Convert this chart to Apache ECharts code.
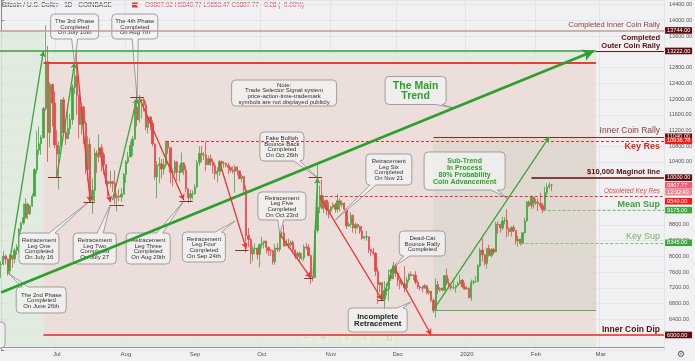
<!DOCTYPE html>
<html><head><meta charset="utf-8">
<script src="https://cdn.jsdelivr.net/npm/echarts@6/dist/echarts.min.js"></script>
<style>html,body{margin:0;padding:0;background:#f1f1f3;}#c{width:695px;height:361px;}</style>
</head><body><div id="c"></div>
<script>
// ---------- DATA ----------
const firstDay = '2019-06-06', lastDay = '2020-03-29';
// daily candles [open, close, low, high]
const jun19 = [[7790,7800,7450,7870],[7800,8000,7770,8130],[8000,7930,7790,8050],[7930,7630,7510,7950],[7630,8020,7530,8050],[8020,7930,7710,8030],[7930,8150,7820,8220],[8150,8240,8040,8310],[8240,8690,8080,8720],[8690,8850,8600,8880],[8850,8980,8800,9340],[8980,9330,8970,9480],[9330,9080,8940,9360],[9080,9280,9050,9310],[9280,9530,9260,9600],[9530,10200,9530,10250],[10200,10700,10100,11180],[10700,10860,10580,11300],[10860,11020,10580,11080],[11020,11760,11000,11800],[11760,12950,11700,13880],[12950,11150,10400,13350],[11150,12370,10770,12430],[12370,11900,11300,12390],[11900,10830,10750,12190]];
const jul19 = [[10830,10600,10000,11210],[10600,10800,9700,10920],[10800,11980,10800,11990],[11980,11150,11080,12050],[11150,10990,10830,11440],[10990,11250,10990,11700],[11250,11480,11100,11620],[11480,12300,11350,12380],[12300,12580,12130,12800],[12580,12100,11600,13200],[12100,11350,11000,12100],[11350,11800,11100,11900],[11800,11380,10850,11830],[11380,10200,10100,11450],[10200,10850,9900,11050],[10850,9430,9380,11000],[9430,9680,9080,9980],[9680,10630,9380,10750],[10630,10530,10120,10700],[10530,10760,10400,11100],[10760,10590,10160,10850],[10590,10330,10080,10650],[10330,9900,9830,10330],[9900,9850,9530,9930],[9850,9900,9750,10180],[9900,9850,9640,9900],[9850,9490,9330,10190],[9490,9530,9140,9600],[9530,9510,9400,9700],[9510,9580,9390,9740],[9580,10080,9570,10120]];
const aug19 = [[10080,10400,9870,10450],[10400,10530,10350,10660],[10530,10820,10520,10920],[10820,10980,10560,11060],[10980,11800,10970,11900],[11800,11470,11300,12300],[11470,11970,11400,12100],[11970,11980,11500,12000],[11980,11850,11680,12040],[11850,11280,11200,11950],[11280,11540,11130,11560],[11540,11390,11210,11560],[11390,10860,10800,11460],[10860,10020,9950,10860],[10020,10310,9480,10420],[10310,10350,9860,10520],[10350,10220,9980,10470],[10220,10320,10080,10480],[10320,10920,10260,10940],[10920,10760,10600,10940],[10760,10140,9860,10770],[10140,10130,9780,10240],[10130,10400,10060,10450],[10400,10140,9920,10420],[10140,10140,9900,10330],[10140,10370,10140,10640],[10370,10190,10070,10400],[10190,9720,9640,10310],[9720,9490,9350,9720],[9490,9590,9400,9700],[9590,9600,9450,9680]];
const sep19 = [[9600,9760,9560,9830],[9760,10380,9750,10450],[10380,10620,10300,10800],[10620,10580,10400,10800],[10580,10580,10450,10650],[10580,10330,10160,10920],[10330,10480,10330,10560],[10480,10400,10300,10590],[10400,10310,10100,10480],[10310,10100,9950,10380],[10100,10160,9880,10270],[10160,10410,10050,10450],[10410,10360,10160,10440],[10360,10360,10250,10420],[10360,10310,10270,10390],[10310,10260,10080,10380],[10260,10190,10130,10270],[10190,10160,10100,10290],[10160,10270,9620,10330],[10270,10170,10060,10290],[10170,9980,9960,10180],[9980,10030,9880,10100],[10030,9690,9620,10050],[9690,8530,8100,9800],[8530,8430,8230,8720],[8430,8060,7800,8460],[8060,8190,7870,8270],[8190,8210,8050,8330],[8210,8050,7920,8220],[8050,8300,7720,8330]];
const oct19 = [[8300,8340,8200,8500],[8340,8390,8200,8390],[8390,8230,8070,8390],[8230,8150,8010,8240],[8150,8140,8010,8180],[8140,7860,7790,8170],[7860,8210,7780,8320],[8210,8180,8110,8340],[8180,8590,8110,8670],[8590,8590,8470,8630],[8590,8260,8250,8800],[8260,8320,8260,8440],[8320,8290,8200,8450],[8290,8360,8230,8400],[8360,8160,8100,8400],[8160,8000,7930,8170],[8000,8080,7960,8120],[8080,7960,7870,8110],[7960,7960,7900,8090],[7960,8240,7880,8300],[8240,8220,8170,8340],[8220,8020,8000,8310],[8020,7480,7300,8040],[7480,7460,7360,7500],[7460,8660,7450,8800],[8660,9250,8600,10350],[9250,9550,9100,9800],[9550,9220,9200,9950],[9220,9420,9100,9550],[9420,9180,9040,9440],[9180,9150,8960,9380]];
const nov19 = [[9150,9250,9060,9280],[9250,9310,9210,9370],[9310,9200,9110,9360],[9200,9410,9110,9580],[9410,9310,9150,9470],[9310,9350,9250,9420],[9350,9200,9120,9370],[9200,8770,8700,9230],[8770,8810,8760,8870],[8810,9040,8730,9120],[9040,8720,8600,9070],[8720,8810,8570,8860],[8810,8760,8700,8830],[8760,8640,8570,8780],[8640,8460,8420,8770],[8460,8490,8430,8530],[8490,8500,8400,8650],[8500,8170,8080,8500],[8170,8120,8000,8190],[8120,8080,8030,8220],[8080,7620,7500,8100],[7620,7280,6790,7720],[7280,7330,7080,7360],[7330,6910,6880,7340],[6910,7130,6520,7370],[7130,7170,7000,7320],[7170,7520,6870,7660],[7520,7430,7370,7640],[7430,7760,7420,7860],[7760,7570,7470,7820]];
const dec19 = [[7570,7400,7240,7580],[7400,7300,7160,7410],[7300,7300,7240,7410],[7300,7200,7080,7750],[7200,7400,7170,7480],[7400,7540,7340,7570],[7540,7510,7490,7620],[7510,7520,7400,7550],[7520,7340,7290,7620],[7340,7220,7170,7400],[7220,7200,7130,7260],[7200,7190,7080,7250],[7190,7250,7180,7300],[7250,7070,7030,7270],[7070,7110,7020,7180],[7110,6880,6830,7130],[6880,6620,6560,6930],[6620,7280,6430,7440],[7280,7150,7040,7370],[7150,7190,7100,7220],[7190,7140,7100,7190],[7140,7510,7130,7520],[7510,7320,7270,7690],[7320,7250,7170,7440],[7250,7200,7130,7270],[7200,7200,7160,7440],[7200,7250,7080,7270],[7250,7300,7250,7360],[7300,7390,7290,7520],[7390,7220,7210,7420],[7220,7170,7150,7330]];
const jan20 = [[7170,7180,7150,7250],[7180,6950,6930,7210],[6950,7340,6870,7410],[7340,7350,7280,7400],[7350,7360,7330,7500],[7360,7760,7350,7800],[7760,8160,7730,8220],[8160,8040,7870,8460],[8040,7820,7760,8050],[7820,8200,7680,8200],[8200,8020,7990,8290],[8020,8180,7970,8200],[8180,8110,8050,8200],[8110,8820,8110,8880],[8820,8810,8570,8890],[8810,8720,8600,8830],[8720,8900,8670,9000],[8900,8920,8810,9000],[8920,8700,8480,9190],[8700,8630,8520,8730],[8630,8730,8500,8760],[8730,8660,8620,8800],[8660,8390,8300,8660],[8390,8440,8240,8520],[8440,8330,8270,8440],[8330,8600,8300,8600],[8600,8900,8580,8980],[8900,9380,8880,9400],[9380,9290,9250,9420],[9290,9500,9200,9550],[9500,9350,9220,9520]];
const feb20 = [[9350,9380,9300,9470],[9380,9340,9150,9470],[9340,9290,9220,9620],[9290,9180,9100,9350],[9180,9620,9170,9770],[9620,9760,9550,9860],[9760,9808.05,9720,9880],[9807.92,9807.77,9653.47,9840.77]];

// x-axis tick labels
const xTicks = {'2019-07-01':'Jul','2019-08-01':'Aug','2019-09-01':'Sep','2019-10-01':'Oct','2019-11-01':'Nov','2019-12-01':'Dec','2020-01-01':'2020','2020-02-01':'Feb','2020-03-01':'Mar'};

// horizontal levels (price values)
const levelValues = {innerRally2:13744, outerRally:13222, phaseTop:12930, innerRally:11040, keyRes:10936.78, maginot:10000, obsRes:9540, meanSup:9175, keySup:8345, innerDip:6000, subBase:6640, last:9807.77};

// ---------- HELPERS ----------
const dates = [];
for (let t = Date.UTC(2019,5,6); t <= Date.UTC(2020,2,29); t += 86400000) dates.push(new Date(t).toISOString().slice(0,10));
const candles = [].concat(jun19, jul19, aug19, sep19, oct19, nov19, dec19, jan20, feb20);
const L = -0.5, R = dates.length - 0.5;
function X(d){ if (typeof d === 'number') return d; const [y,m,dd] = d.split('-').map(Number); return Math.round((Date.UTC(y,m-1,dd) - Date.UTC(2019,5,6))/86400000); }

const FONT = 'Liberation Sans';
const MAROON = '#5b0e0e';

// ---------- ANNOTATIONS ----------
const areas = [
  {a:[L, 13744], b:['2019-06-25', 5695], c:'rgba(222,234,218,0.85)'},
  {a:['2019-06-25', 13222], b:['2020-02-28', 12930], c:'rgba(222,234,218,0.85)'},
  {a:['2019-06-25', 6000], b:['2020-02-28', 5695], c:'rgba(222,234,218,0.85)'},
  {a:['2019-06-25', 12930], b:['2020-02-28', 6000], c:'rgba(235,218,212,0.8)'},
  {a:['2019-12-17', 11040], b:['2020-02-28', 6640], c:'rgba(219,215,206,0.75)'}
];

const levels = [
  {v:levelValues.innerRally2, from:L, to:R, color:'#c39a9a', w:1.6, text:'Completed Inner Coin Rally', tc:'#8e4040', fs:7.5},
  {v:levelValues.outerRally, from:'2020-02-28', to:R, color:'#6a1c1c', w:1.2, text:'Completed\nOuter Coin Rally', tc:MAROON, fs:7.5, fw:'bold', lh:7.5},
  {v:levelValues.outerRally, from:L, to:'2020-02-28', color:'#3c9c3c', w:1.5},
  {v:levelValues.phaseTop, from:'2019-06-25', to:'2020-02-28', color:'#f03a3a', w:2},
  {v:levelValues.innerRally, from:'2019-12-17', to:R, color:'#7a3030', w:1.2, text:'Inner Coin Rally', tc:'#8e4040', fs:8.5},
  {v:levelValues.keyRes, from:'2019-08-19', to:R, color:'#e83030', w:1, dash:[3,2], text:'Key Res', tc:'#e52222', fs:9, fw:'bold', pos:'insideEndBottom'},
  {v:levelValues.maginot, from:'2020-01-30', to:R, color:MAROON, w:1.5, text:'$10,000 Maginot line', tc:MAROON, fs:7.5, fw:'bold'},
  {v:levelValues.obsRes, from:'2019-10-27', to:R, color:'#e83030', w:1, dash:[3,2], text:'Obsoleted Key Res', tc:'#e84545', fs:6.5, fst:'italic'},
  {v:levelValues.meanSup, from:'2020-02-04', to:R, color:'#7cc46c', w:1, dash:[3,2], text:'Mean Sup', tc:'#3e9f3e', fs:9, fw:'bold'},
  {v:levelValues.keySup, from:'2020-01-25', to:R, color:'#7cc46c', w:1, dash:[3,2], text:'Key Sup', tc:'#6cb85c', fs:9},
  {v:levelValues.innerDip, from:'2019-06-25', to:R, color:'#ee2424', w:1.5, text:'Inner Coin Dip', tc:MAROON, fs:8.5, fw:'bold'},
  {v:levelValues.subBase, from:'2019-12-17', to:'2020-02-28', color:'#62aa5a', w:1}
];

const badges = [
  {v:levelValues.innerRally2, t:'13744.00', bg:MAROON},
  {v:levelValues.outerRally, t:'13222.00', bg:MAROON},
  {v:levelValues.innerRally, t:'11040.00', bg:MAROON},
  {v:levelValues.keyRes, t:'10936.78', bg:'#f21c1c'},
  {v:levelValues.maginot, t:'10000.00', bg:MAROON},
  {v:levelValues.last, t:'9807.77', bg:'#ef5d6c'},
  {v:levelValues.last, t:'12:32:43', bg:'#f28893', dy:7},
  {v:levelValues.obsRes, t:'9540.00', bg:'#f21c1c', dy:5.5},
  {v:levelValues.meanSup, t:'9175.00', bg:'#3da63d'},
  {v:levelValues.keySup, t:'8345.00', bg:'#3da63d'},
  {v:levelValues.innerDip, t:'6000.00', bg:MAROON}
];

// trend arrows [from, to]
const greenArrows = [
  [['2019-06-09', 7580], ['2019-06-25', 13222]],
  [['2019-07-01', 10020], ['2019-07-09', 12930]],
  [['2019-07-26', 9430], ['2019-08-06', 12030]],
  [['2019-10-24', 7450], ['2019-10-26', 10000]],
  [['2019-11-24', 6890], ['2019-11-29', 7730]],
  [['2019-12-17', 6640], ['2020-02-07', 11040]]
];
const redArrows = [
  [['2019-07-10', 12930], ['2019-07-16', 9380]],
  [['2019-07-20', 10760], ['2019-07-25', 9380]],
  [['2019-08-07', 12030], ['2019-08-27', 9430]],
  [['2019-09-12', 10400], ['2019-09-24', 8190]],
  [['2019-10-09', 8570], ['2019-10-23', 7450]],
  [['2019-10-27', 9510], ['2019-11-24', 6890]],
  [['2019-11-30', 7650], ['2019-12-16', 6000]]
];
const mainTrend = [['2019-06-06', 7080], ['2020-02-27', 13222]];
const pivotMarks = [
  ['2019-06-27','2019-07-03',10020],['2019-07-13','2019-07-18',9370],['2019-07-25','2019-07-31',9300],
  ['2019-08-03','2019-08-09',12040],['2019-08-25','2019-08-31',9410],['2019-09-19','2019-09-25',8160],
  ['2019-10-20','2019-10-24',7430],['2019-10-22','2019-10-28',10000],['2019-11-22','2019-11-25',6890]
];

const callouts = [
  {at:['2019-07-09', 13844], w:48, h:25, to:['2019-07-09', 12920], text:'The 3rd Phase\nCompleted\nOn July 10th'},
  {at:['2019-08-05', 13844], w:46, h:25, to:['2019-08-06', 12030], text:'The 4th Phase\nCompleted\nOn Aug 7th'},
  {at:['2019-10-11', 12153], w:105, h:26, text:'Note:\nTrade Selector Signal system\nprice-action-time-trademark\nsymbols are not displayed publicly'},
  {at:['2019-12-09', 12217], w:61, h:28, to:['2019-12-26', 11772], text:'The Main\nTrend', fs:10.5, fw:'bold', color:'#2c9e2c', lh:10.5},
  {at:['2019-10-10', 10793], w:44, h:29, to:['2019-10-26', 10000], text:'Fake Bullish\nBounce Back\nCompleted\nOn Oct 26th'},
  {at:['2019-11-27', 10208], w:46, h:31, to:['2019-11-03', 8924], text:'Retracement\nLeg Six\nCompleted\nOn Nov 21'},
  {at:['2019-12-31', 10170], w:81, h:38, to:['2020-01-19', 9480], text:'Sub-Trend\nIn Process\n80% Probability\nCoin Advancement', fs:7, fw:'bold', color:'#2ea02e', lh:7.2},
  {at:['2019-10-10', 9280], w:48, h:28, to:['2019-10-09', 8568], text:'Retracement\nLeg Five\nCompleted\nOn Oct 23rd'},
  {at:['2019-12-12', 8326], w:46, h:25, to:['2019-11-29', 7730], text:'Dead-Cat\nBounce Rally\nCompleted'},
  {at:['2019-11-22', 6381], w:59, h:24, to:['2019-12-07', 6839], text:'Incomplete\nRetracement', fs:7.8, fw:'bold', color:'#222', lh:7},
  {at:['2019-06-23', 8199], w:40, h:31, to:['2019-07-15', 9370], text:'Retracement\nLeg One\nCompleted\nOn July 16'},
  {at:['2019-07-18', 8199], w:43, h:31, to:['2019-07-25', 9310], text:'Retracement\nLeg Two\nCompleted\nOn July 27'},
  {at:['2019-08-11', 8199], w:44, h:31, to:['2019-08-27', 9410], text:'Retracement\nLeg Three\nCompleted\nOn Aug 29th'},
  {at:['2019-09-05', 8237], w:43, h:30, to:['2019-09-19', 8900], text:'Retracement\nLeg Four\nCompleted\nOn Sep 24th'},
  {at:['2019-06-24', 6890], w:50, h:26, to:['2019-06-09', 7580], text:'The 2nd Phase\nCompleted\nOn June 26th'},
  {at:['2019-05-28', 6000], w:48, h:26, text:''}
];

// ---------- BUILD ----------
function seg(a, b, style, endSym, size){
  return [
    {coord:[X(a[0]), a[1]], symbol:'none', lineStyle:style},
    {coord:[X(b[0]), b[1]], symbol:endSym || 'none', symbolSize:endSym ? (size || [5,6]) : 0}
  ];
}
const markLines = [];
levels.forEach(l => {
  markLines.push([
    {coord:[X(l.from), l.v], symbol:'none', lineStyle:{color:l.color, width:l.w, type:l.dash || 'solid'},
     label: l.text ? {show:true, position:l.pos || 'insideEndTop', distance:[4,1.5], formatter:()=>l.text, color:l.tc, fontSize:l.fs, fontWeight:l.fw || 'normal', fontStyle:l.fst || 'normal', fontFamily:FONT, lineHeight:l.lh || l.fs, align:'right'} : {show:false}},
    {coord:[X(l.to), l.v], symbol:'none'}
  ]);
});
pivotMarks.forEach(p => markLines.push(seg([p[0], p[2]], [p[1], p[2]], {color:'#7a3535', width:1, type:'solid'})));
markLines.push(seg(mainTrend[0], mainTrend[1], {color:'#2ca02c', width:2.6, type:'solid'}, 'arrow', [9,11]));
greenArrows.forEach(g => markLines.push(seg(g[0], g[1], {color:'#3aa63a', width:1.3, type:'solid'}, 'arrow')));
redArrows.forEach(r => markLines.push(seg(r[0], r[1], {color:'#ec3434', width:1.3, type:'solid'}, 'arrow')));

const markPoints = badges.map(b => ({
  coord:[R, b.v], symbol:'circle', symbolSize:1, itemStyle:{color:'rgba(0,0,0,0)'},
  label:{show:true, position:'right', distance:0.5, offset:[0, b.dy || 0], formatter:()=>b.t, color:'#fff', backgroundColor:b.bg,
    fontSize:5.6, fontFamily:FONT, lineHeight:6.6, padding:[0,2], width:23, align:'left'}
}));

const markAreas = areas.map(a => [
  {coord:[X(a.a[0]), a.a[1]], itemStyle:{color:a.c}},
  {coord:[X(a.b[0]), a.b[1]]}
]);

function renderCallout(params, api){
  const c = callouts[params.dataIndex];
  const p = api.coord([api.value(0), api.value(1)]);
  const w = c.w, h = c.h, r = 4;
  const x0 = p[0]-w/2, y0 = p[1]-h/2, x1 = x0+w, y1 = y0+h;
  const TL = `M${x0+r},${y0}`, TR = `Q${x1},${y0} ${x1},${y0+r}`, BR = `Q${x1},${y1} ${x1-r},${y1}`, BL = `Q${x0},${y1} ${x0},${y1-r}`, TLc = `Q${x0},${y0} ${x0+r},${y0} Z`;
  let d;
  if (c.to){
    const t = api.coord([X(c.to[0]), c.to[1]]);
    const dx = t[0]-p[0], dy = t[1]-p[1];
    if (Math.abs(dy)/(h/2) >= Math.abs(dx)/(w/2)){
      const ey = dy > 0 ? y1 : y0; const k = (ey-p[1])/dy;
      let bx = p[0] + dx*k; bx = Math.max(x0+r+3, Math.min(x1-r-3, bx));
      if (dy > 0) d = `${TL} H${x1-r} ${TR} V${y1-r} ${BR} H${bx+3} L${t[0]},${t[1]} L${bx-3},${y1} H${x0+r} ${BL} V${y0+r} ${TLc}`;
      else d = `${TL} H${bx-3} L${t[0]},${t[1]} L${bx+3},${y0} H${x1-r} ${TR} V${y1-r} ${BR} H${x0+r} ${BL} V${y0+r} ${TLc}`;
    } else {
      const ex = dx > 0 ? x1 : x0; const k = (ex-p[0])/dx;
      let by = p[1] + dy*k; by = Math.max(y0+r+3, Math.min(y1-r-3, by));
      if (dx > 0) d = `${TL} H${x1-r} ${TR} V${by-3} L${t[0]},${t[1]} L${x1},${by+3} V${y1-r} ${BR} H${x0+r} ${BL} V${y0+r} ${TLc}`;
      else d = `${TL} H${x1-r} ${TR} V${y1-r} ${BR} H${x0+r} ${BL} V${by+3} L${t[0]},${t[1]} L${x0},${by-3} V${y0+r} ${TLc}`;
    }
  } else {
    d = `${TL} H${x1-r} ${TR} V${y1-r} ${BR} H${x0+r} ${BL} V${y0+r} ${TLc}`;
  }
  return {type:'group', children:[
    {type:'path', shape:{pathData:d}, style:{fill:'rgba(242,242,242,0.82)', stroke:'#8c8c8c', lineWidth:0.8}},
    {type:'text', style:{text:c.text, x:p[0], y:p[1]+0.5, align:'center', verticalAlign:'middle', fill:c.color || '#333',
      fontSize:c.fs || 6, fontWeight:c.fw || 'normal', fontFamily:FONT, lineHeight:c.lh || 5.6}}
  ]};
}

const chart = echarts.init(document.getElementById('c'), null, {renderer:'canvas'});
chart.setOption({
  animation:false,
  backgroundColor:'#f1f1f3',
  grid:{left:0, right:28, top:0, bottom:10.3},
  xAxis:[
    {type:'category', data:dates, boundaryGap:true, offset:-3,
     axisLine:{lineStyle:{color:'#9a9a9a'}}, axisTick:{show:false},
     axisLabel:{interval:(i,v)=>xTicks[v]!==undefined, formatter:v=>xTicks[v]||'', color:'#555', fontSize:6, margin:4, fontFamily:FONT},
     splitLine:{show:true, interval:(i,v)=>xTicks[v]!==undefined, lineStyle:{color:'#e2e4ea', width:1}}},
    {type:'value', min:L, max:R, show:false}
  ],
  yAxis:{type:'value', position:'right', min:5600, max:14518, interval:400,
    axisLine:{show:true, lineStyle:{color:'#8a8a8a'}},
    axisTick:{show:true, length:3, lineStyle:{color:'#8a8a8a'}},
    axisLabel:{color:'#555', fontSize:5.5, margin:5, fontFamily:FONT, formatter:v => (v>=6000 && v<=14400 && v%400===0) ? v.toFixed(2) : ''},
    splitLine:{lineStyle:{color:'#e3e5ea'}}},
  series:[
    {type:'line', xAxisIndex:1, data:[], z:1, silent:true, markArea:{silent:true, data:markAreas}},
    {type:'candlestick', xAxisIndex:0, data:candles, barWidth:1.8, z:2,
     itemStyle:{color:'#43a843', color0:'#e8474a', borderColor:'#43a843', borderColor0:'#e8474a', borderWidth:0.8}},
    {type:'line', xAxisIndex:1, data:[], z:3, silent:true,
     markLine:{silent:true, symbol:['none','none'], label:{show:false}, data:markLines},
     markPoint:{silent:true, data:markPoints}},
    {type:'custom', xAxisIndex:1, z:4, silent:true, data:callouts.map(c => [X(c.at[0]), c.at[1]]), renderItem:renderCallout}
  ],
  graphic:[
    {type:'text', x:2, y:5.5, style:{text:'Bitcoin / U.S. Dollar · 1D · COINBASE', fill:'#444', fontSize:6.5, fontFamily:FONT, verticalAlign:'middle'}},
    {type:'polygon', shape:{points:[[132,2.5],[138.5,2.5],[136.5,5],[138.5,7.5],[132,7.5]]}, style:{fill:'#e53935'}},
    {type:'text', x:145, y:5.5, style:{text:'O9807.92 H9840.77 L9653.47 C9807.77 −0.28 (−0.00%)', fill:'#e0484b', fontSize:6.3, fontFamily:FONT, verticalAlign:'middle'}},
    {type:'group', children:[306,323.3,346.7,365,389].map((cx,i)=>({type:'group', children:[
      {type:'circle', shape:{cx:cx, cy:338.3, r:6.5}, style:{fill:'#ffffff', shadowBlur:2, shadowColor:'rgba(0,0,0,0.25)'}},
      {type:'text', style:{text:['−','+','‹','›','↻'][i], x:cx, y:338.3, align:'center', verticalAlign:'middle', fill:'#444', fontSize:i<2?8:9, fontFamily:'DejaVu Sans'}}
    ]}))},
    {type:'text', style:{text:'⚙', x:681, y:355, align:'center', verticalAlign:'middle', fill:'#555', fontSize:9, fontFamily:'DejaVu Sans'}}
  ]
});
</script>
</body></html>
